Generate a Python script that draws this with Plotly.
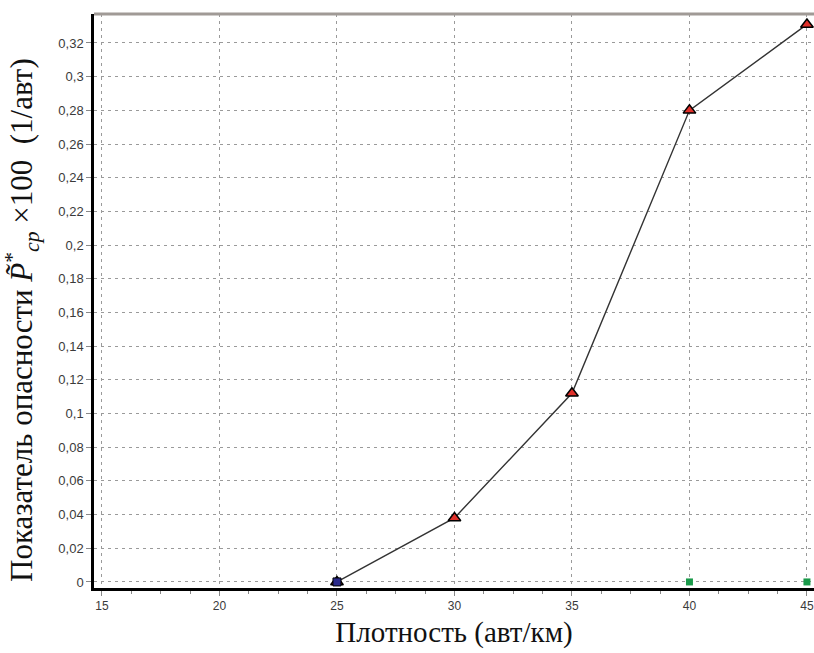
import plotly.graph_objects as go

density = [25, 30, 35, 40, 45]
risk = [0.0, 0.038, 0.112, 0.28, 0.331]

zero_x = [25, 40, 45]
zero_y = [0.0, 0.0, 0.0]

x_ticks = [15, 20, 25, 30, 35, 40, 45]
y_ticks = [0, 0.02, 0.04, 0.06, 0.08, 0.1, 0.12, 0.14, 0.16, 0.18, 0.2,
           0.22, 0.24, 0.26, 0.28, 0.3, 0.32]
y_labels = ["0" if v == 0 else ("%g" % v).replace(".", ",") for v in y_ticks]

y_title = "Показатель опасности <i>P̃</i><sup>*</sup><sub><i>ср</i></sub> ×100  (1/авт)"
x_title = "Плотность (авт/км)"

fig = go.Figure()
fig.add_trace(go.Scatter(
    x=zero_x, y=zero_y, mode="markers",
    marker=dict(symbol="square", size=7, color="#1a9a4a", line=dict(width=0)),
    showlegend=False, cliponaxis=False))
fig.add_trace(go.Scatter(
    x=density, y=risk, mode="lines+markers",
    line=dict(color="#333333", width=1.4),
    marker=dict(symbol="triangle-up", size=11, color="#e0302a",
                line=dict(color="black", width=1.5)),
    showlegend=False, cliponaxis=False))
fig.add_trace(go.Scatter(
    x=density[:1], y=risk[:1], mode="markers",
    marker=dict(symbol="square", size=8, color="#2a2a8a",
                line=dict(color="black", width=1)),
    showlegend=False, cliponaxis=False))

fig.update_layout(
    width=814, height=653,
    margin=dict(l=94, r=0, t=14, b=65),
    paper_bgcolor="white", plot_bgcolor="white",
    font=dict(family="Liberation Sans, Arial, sans-serif", color="#444"),
    shapes=[dict(type="line", xref="paper", yref="paper", x0=0, x1=1, y0=1, y1=1,
                 line=dict(color="#a09a96", width=3))],
    annotations=[dict(
        text=y_title, textangle=-90, xref="paper", yref="paper",
        x=-0.1, y=0.467, xanchor="center", yanchor="middle", showarrow=False,
        font=dict(family="Liberation Serif, Times New Roman, serif",
                  size=31, color="#111"))],
)
fig.update_xaxes(
    range=[14.66, 45.3],
    tickvals=x_ticks, ticktext=[str(v) for v in x_ticks],
    ticks="outside", ticklen=5, tickcolor="#888",
    tickfont=dict(size=12, color="#3a3a3a"),
    showline=True, linecolor="black", linewidth=3,
    showgrid=True, gridcolor="#9a9a9a", gridwidth=1, griddash="3px,4px",
    zeroline=False,
    minor=dict(dtick=1.25, tick0=15, ticks="outside", ticklen=3, tickcolor="#888",
               showgrid=False),
    title=dict(text=x_title, standoff=10,
               font=dict(family="Liberation Serif, Times New Roman, serif",
                         size=29, color="#111")),
)
fig.update_yaxes(
    range=[-0.0036, 0.3372],
    tickvals=y_ticks, ticktext=y_labels,
    ticks="outside", ticklen=5, tickcolor="#888",
    tickfont=dict(size=13, color="#3a3a3a"),
    showline=True, linecolor="black", linewidth=2.5,
    showgrid=True, gridcolor="#9a9a9a", gridwidth=1, griddash="3px,4px",
    zeroline=False,
)

fig.write_html("out.html")
